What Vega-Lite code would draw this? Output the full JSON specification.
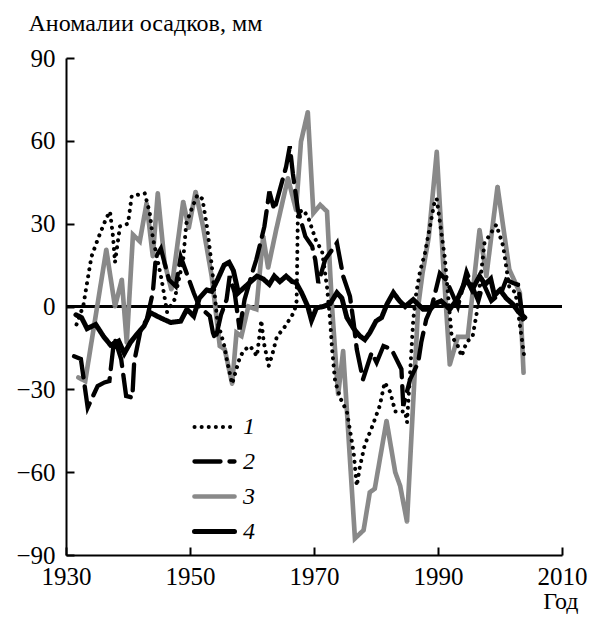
{
  "$schema": "https://vega.github.io/schema/vega-lite/v6.json",
  "autosize": "none",
  "width": 496,
  "height": 497,
  "padding": {"left": 66, "top": 58, "right": 27, "bottom": 62},
  "background": "white",
  "config": {
    "view": {"stroke": null},
    "axis": {"domainColor": "black", "domainWidth": 2, "tickColor": "black", "tickWidth": 2, "grid": false, "labelFlush": false,
      "labelFont": "Liberation Serif", "labelFontSize": 25, "labelColor": "black",
      "titleFont": "Liberation Serif", "titleFontSize": 24, "titleFontWeight": "normal", "titleColor": "black"}
  },
  "data": {"values": [
    {"series":"3","year":1932.0,"anomaly":-25.7},{"series":"3","year":1933.1,"anomaly":-27},{"series":"3","year":1936.5,"anomaly":20.6},{"series":"3","year":1937.9,"anomaly":0},{"series":"3","year":1939.0,"anomaly":9.7},{"series":"3","year":1939.8,"anomaly":-13.1},{"series":"3","year":1940.8,"anomaly":26},{"series":"3","year":1941.9,"anomaly":23.6},{"series":"3","year":1943.0,"anomaly":37.4},{"series":"3","year":1944.0,"anomaly":18.2},{"series":"3","year":1944.8,"anomaly":41},{"series":"3","year":1945.9,"anomaly":15.8},{"series":"3","year":1947.0,"anomaly":6.1},{"series":"3","year":1948.9,"anomaly":38},{"series":"3","year":1949.8,"anomaly":28.4},{"series":"3","year":1950.9,"anomaly":41.6},{"series":"3","year":1952.1,"anomaly":29},{"series":"3","year":1953.5,"anomaly":11},{"series":"3","year":1954.8,"anomaly":-14.3},{"series":"3","year":1955.6,"anomaly":-15.5},{"series":"3","year":1956.8,"anomaly":-28},{"series":"3","year":1957.5,"anomaly":-9.5},{"series":"3","year":1958.3,"anomaly":-10.7},{"series":"3","year":1959.4,"anomaly":0},{"series":"3","year":1960.7,"anomaly":-1},{"series":"3","year":1961.8,"anomaly":25.4},{"series":"3","year":1962.6,"anomaly":14},{"series":"3","year":1963.9,"anomaly":27.8},{"series":"3","year":1965.8,"anomaly":46.5},{"series":"3","year":1967.1,"anomaly":35},{"series":"3","year":1967.9,"anomaly":59.7},{"series":"3","year":1969.0,"anomaly":70.4},{"series":"3","year":1969.9,"anomaly":33.8},{"series":"3","year":1971.0,"anomaly":36.8},{"series":"3","year":1972.1,"anomaly":34.4},{"series":"3","year":1972.9,"anomaly":0},{"series":"3","year":1973.9,"anomaly":-31.8},{"series":"3","year":1974.7,"anomaly":-16.1},{"series":"3","year":1976.6,"anomaly":-84},{"series":"3","year":1978.0,"anomaly":-81},{"series":"3","year":1979.0,"anomaly":-67.3},{"series":"3","year":1979.8,"anomaly":-66},{"series":"3","year":1981.7,"anomaly":-41.4},{"series":"3","year":1983.1,"anomaly":-60},{"series":"3","year":1983.9,"anomaly":-65},{"series":"3","year":1985.0,"anomaly":-78},{"series":"3","year":1986.8,"anomaly":0},{"series":"3","year":1987.5,"anomaly":12},{"series":"3","year":1988.5,"anomaly":25},{"series":"3","year":1989.8,"anomaly":56},{"series":"3","year":1990.8,"anomaly":17},{"series":"3","year":1991.9,"anomaly":-21},{"series":"3","year":1993.2,"anomaly":-11},{"series":"3","year":1994.8,"anomaly":-11},{"series":"3","year":1996.7,"anomaly":27.8},{"series":"3","year":1997.8,"anomaly":11},{"series":"3","year":1999.6,"anomaly":43.4},{"series":"3","year":2001.5,"anomaly":13.4},{"series":"3","year":2003.2,"anomaly":5},{"series":"3","year":2003.8,"anomaly":-24},
    {"series":"1","year":1931.7,"anomaly":-6.5},{"series":"1","year":1932.8,"anomaly":0.4},{"series":"1","year":1933.3,"anomaly":7.3},{"series":"1","year":1934.1,"anomaly":18},{"series":"1","year":1935.2,"anomaly":24.8},{"series":"1","year":1936.5,"anomaly":32},{"series":"1","year":1937.1,"anomaly":34.4},{"series":"1","year":1937.6,"anomaly":25},{"series":"1","year":1937.9,"anomaly":16},{"series":"1","year":1938.7,"anomaly":29},{"series":"1","year":1940.0,"anomaly":30},{"series":"1","year":1940.6,"anomaly":40},{"series":"1","year":1941.4,"anomaly":40.4},{"series":"1","year":1942.7,"anomaly":41},{"series":"1","year":1943.5,"anomaly":34},{"series":"1","year":1944.0,"anomaly":25},{"series":"1","year":1945.4,"anomaly":10},{"series":"1","year":1946.3,"anomaly":-2},{"series":"1","year":1947.5,"anomaly":2.5},{"series":"1","year":1948.9,"anomaly":17},{"series":"1","year":1949.4,"anomaly":30},{"series":"1","year":1950.2,"anomaly":35},{"series":"1","year":1951.2,"anomaly":40.4},{"series":"1","year":1952.0,"anomaly":39},{"series":"1","year":1952.8,"anomaly":28},{"series":"1","year":1953.5,"anomaly":15},{"series":"1","year":1954.4,"anomaly":-5},{"series":"1","year":1955.5,"anomaly":-14},{"series":"1","year":1956.0,"anomaly":-20},{"series":"1","year":1956.8,"anomaly":-28},{"series":"1","year":1958.1,"anomaly":-18},{"series":"1","year":1958.9,"anomaly":-15.5},{"series":"1","year":1959.7,"anomaly":-14.3},{"series":"1","year":1960.8,"anomaly":-18},{"series":"1","year":1961.5,"anomaly":-5},{"series":"1","year":1961.9,"anomaly":-13},{"series":"1","year":1962.7,"anomaly":-21.5},{"series":"1","year":1963.2,"anomaly":-18},{"series":"1","year":1964.0,"anomaly":-11},{"series":"1","year":1965.4,"anomaly":-7},{"series":"1","year":1966.8,"anomaly":-2},{"series":"1","year":1967.2,"anomaly":2},{"series":"1","year":1967.4,"anomaly":34},{"series":"1","year":1968.3,"anomaly":35},{"series":"1","year":1969.1,"anomaly":32},{"series":"1","year":1970.3,"anomaly":24},{"series":"1","year":1971.3,"anomaly":20},{"series":"1","year":1972.1,"anomaly":7},{"series":"1","year":1972.6,"anomaly":-5},{"series":"1","year":1972.9,"anomaly":-15},{"series":"1","year":1973.4,"anomaly":-27},{"series":"1","year":1974.2,"anomaly":-33},{"series":"1","year":1975.3,"anomaly":-38},{"series":"1","year":1976.4,"anomaly":-53},{"series":"1","year":1976.9,"anomaly":-65},{"series":"1","year":1977.4,"anomaly":-58},{"series":"1","year":1978.2,"anomaly":-50},{"series":"1","year":1979.3,"anomaly":-44},{"series":"1","year":1980.6,"anomaly":-36},{"series":"1","year":1981.4,"anomaly":-27.5},{"series":"1","year":1982.3,"anomaly":-31},{"series":"1","year":1983.1,"anomaly":-38},{"series":"1","year":1984.7,"anomaly":-38},{"series":"1","year":1985.0,"anomaly":-42},{"series":"1","year":1985.5,"anomaly":-24},{"series":"1","year":1986.0,"anomaly":-5},{"series":"1","year":1986.5,"anomaly":5},{"series":"1","year":1987.1,"anomaly":12.7},{"series":"1","year":1987.9,"anomaly":19.4},{"series":"1","year":1988.7,"anomaly":29},{"series":"1","year":1989.5,"anomaly":38.6},{"series":"1","year":1989.8,"anomaly":39},{"series":"1","year":1991.1,"anomaly":17.6},{"series":"1","year":1992.2,"anomaly":-10.7},{"series":"1","year":1993.2,"anomaly":-14.3},{"series":"1","year":1993.8,"anomaly":-18},{"series":"1","year":1994.6,"anomaly":-13},{"series":"1","year":1995.6,"anomaly":-10.7},{"series":"1","year":1996.2,"anomaly":-3},{"series":"1","year":1997.5,"anomaly":23},{"series":"1","year":1999.4,"anomaly":29.6},{"series":"1","year":2000.5,"anomaly":22},{"series":"1","year":2001.5,"anomaly":7},{"series":"1","year":2002.5,"anomaly":5},{"series":"1","year":2003.9,"anomaly":-18},
    {"series":"2","year":1931.3,"anomaly":-18},{"series":"2","year":1932.4,"anomaly":-19},{"series":"2","year":1933.5,"anomaly":-36.6},{"series":"2","year":1935.1,"anomaly":-28.8},{"series":"2","year":1936.2,"anomaly":-27.5},{"series":"2","year":1937.0,"anomaly":-27},{"series":"2","year":1937.8,"anomaly":-11.3},{"series":"2","year":1938.9,"anomaly":-19.1},{"series":"2","year":1939.7,"anomaly":-32.4},{"series":"2","year":1940.7,"anomaly":-33},{"series":"2","year":1941.0,"anomaly":-20},{"series":"2","year":1942.1,"anomaly":-7.7},{"series":"2","year":1943.0,"anomaly":-5},{"series":"2","year":1944.0,"anomaly":5},{"series":"2","year":1944.5,"anomaly":18},{"series":"2","year":1945.3,"anomaly":21},{"series":"2","year":1946.6,"anomaly":9.7},{"series":"2","year":1947.7,"anomaly":7.3},{"series":"2","year":1948.5,"anomaly":18},{"series":"2","year":1950.6,"anomaly":5},{"series":"2","year":1951.5,"anomaly":0},{"series":"2","year":1953.2,"anomaly":-3.5},{"series":"2","year":1953.7,"anomaly":-9.5},{"series":"2","year":1954.1,"anomaly":-12},{"series":"2","year":1955.0,"anomaly":-3},{"series":"2","year":1955.9,"anomaly":2.5},{"series":"2","year":1956.4,"anomaly":11},{"series":"2","year":1957.2,"anomaly":5},{"series":"2","year":1958.0,"anomaly":-8.3},{"series":"2","year":1958.8,"anomaly":2.5},{"series":"2","year":1960.2,"anomaly":13.4},{"series":"2","year":1960.7,"anomaly":17},{"series":"2","year":1962.0,"anomaly":29},{"series":"2","year":1962.8,"anomaly":41.6},{"series":"2","year":1963.6,"anomaly":35},{"series":"2","year":1965.5,"anomaly":50.6},{"series":"2","year":1966.1,"anomaly":58},{"series":"2","year":1966.6,"anomaly":48},{"series":"2","year":1967.4,"anomaly":35},{"series":"2","year":1968.6,"anomaly":25.4},{"series":"2","year":1969.7,"anomaly":21.8},{"series":"2","year":1970.2,"anomaly":17},{"series":"2","year":1970.7,"anomaly":8.5},{"series":"2","year":1971.8,"anomaly":17},{"series":"2","year":1973.7,"anomaly":23},{"series":"2","year":1974.7,"anomaly":11},{"series":"2","year":1975.8,"anomaly":3.7},{"series":"2","year":1976.4,"anomaly":-6},{"series":"2","year":1976.9,"anomaly":-15.5},{"series":"2","year":1977.9,"anomaly":-26.4},{"series":"2","year":1979.3,"anomaly":-16.7},{"series":"2","year":1980.1,"anomaly":-20.3},{"series":"2","year":1981.2,"anomaly":-14.3},{"series":"2","year":1982.5,"anomaly":-15.5},{"series":"2","year":1984.1,"anomaly":-22.7},{"series":"2","year":1984.4,"anomaly":-36},{"series":"2","year":1985.5,"anomaly":-26.4},{"series":"2","year":1986.8,"anomaly":-20.3},{"series":"2","year":1987.3,"anomaly":-13},{"series":"2","year":1988.1,"anomaly":-4.7},{"series":"2","year":1989.0,"anomaly":0},{"series":"2","year":1990.3,"anomaly":12},{"series":"2","year":1991.3,"anomaly":9.7},{"series":"2","year":1993.2,"anomaly":0},{"series":"2","year":1994.6,"anomaly":12.5},{"series":"2","year":1996.5,"anomaly":2},{"series":"2","year":1997.3,"anomaly":8.5},{"series":"2","year":1998.6,"anomaly":2},{"series":"2","year":2000.2,"anomaly":5},{"series":"2","year":2001.0,"anomaly":9.7},{"series":"2","year":2002.1,"anomaly":8.5},{"series":"2","year":2002.9,"anomaly":7.9},{"series":"2","year":2003.7,"anomaly":-4.7},
    {"series":"4","year":1931.6,"anomaly":-3},{"series":"4","year":1932.5,"anomaly":-4},{"series":"4","year":1933.4,"anomaly":-8},{"series":"4","year":1934.8,"anomaly":-6.5},{"series":"4","year":1936.1,"anomaly":-11},{"series":"4","year":1937.2,"anomaly":-14},{"series":"4","year":1938.5,"anomaly":-12.5},{"series":"4","year":1939.4,"anomaly":-17},{"series":"4","year":1940.4,"anomaly":-13},{"series":"4","year":1941.2,"anomaly":-10.7},{"series":"4","year":1942.6,"anomaly":-7},{"series":"4","year":1943.6,"anomaly":-2.2},{"series":"4","year":1944.7,"anomaly":-3.5},{"series":"4","year":1945.8,"anomaly":-4.7},{"series":"4","year":1946.9,"anomaly":-5.8},{"series":"4","year":1948.5,"anomaly":-5.3},{"series":"4","year":1949.5,"anomaly":-1},{"series":"4","year":1950.6,"anomaly":-3.5},{"series":"4","year":1951.5,"anomaly":3},{"series":"4","year":1952.7,"anomaly":6},{"series":"4","year":1953.5,"anomaly":5.5},{"series":"4","year":1954.5,"anomaly":10},{"series":"4","year":1955.5,"anomaly":15},{"series":"4","year":1956.3,"anomaly":16},{"series":"4","year":1957.0,"anomaly":13},{"series":"4","year":1957.8,"anomaly":5},{"series":"4","year":1958.8,"anomaly":7},{"series":"4","year":1959.8,"anomaly":9},{"series":"4","year":1960.8,"anomaly":11},{"series":"4","year":1961.8,"anomaly":10},{"series":"4","year":1962.8,"anomaly":8},{"series":"4","year":1963.6,"anomaly":11},{"series":"4","year":1964.5,"anomaly":9},{"series":"4","year":1965.5,"anomaly":11},{"series":"4","year":1966.5,"anomaly":9},{"series":"4","year":1967.1,"anomaly":8.7},{"series":"4","year":1968.0,"anomaly":5},{"series":"4","year":1969.0,"anomaly":0},{"series":"4","year":1969.6,"anomaly":-5},{"series":"4","year":1970.4,"anomaly":-0.5},{"series":"4","year":1971.5,"anomaly":0},{"series":"4","year":1972.6,"anomaly":1},{"series":"4","year":1973.7,"anomaly":5},{"series":"4","year":1974.5,"anomaly":3},{"series":"4","year":1975.3,"anomaly":-4},{"series":"4","year":1976.4,"anomaly":-8},{"series":"4","year":1977.4,"anomaly":-10.7},{"series":"4","year":1978.2,"anomaly":-12},{"series":"4","year":1979.0,"anomaly":-9.5},{"series":"4","year":1980.0,"anomaly":-5.3},{"series":"4","year":1980.9,"anomaly":-4},{"series":"4","year":1981.8,"anomaly":1},{"series":"4","year":1982.8,"anomaly":5},{"series":"4","year":1983.8,"anomaly":2},{"series":"4","year":1984.7,"anomaly":0},{"series":"4","year":1986.0,"anomaly":2.5},{"series":"4","year":1987.6,"anomaly":-1},{"series":"4","year":1988.7,"anomaly":-1},{"series":"4","year":1989.8,"anomaly":1.3},{"series":"4","year":1990.5,"anomaly":2},{"series":"4","year":1991.9,"anomaly":-1},{"series":"4","year":1993.2,"anomaly":3},{"series":"4","year":1994.6,"anomaly":10},{"series":"4","year":1995.5,"anomaly":6},{"series":"4","year":1996.7,"anomaly":11},{"series":"4","year":1997.6,"anomaly":8},{"series":"4","year":1998.5,"anomaly":10},{"series":"4","year":1999.1,"anomaly":4},{"series":"4","year":2000.0,"anomaly":6},{"series":"4","year":2001.0,"anomaly":3},{"series":"4","year":2002.0,"anomaly":1},{"series":"4","year":2003.0,"anomaly":-2},{"series":"4","year":2004.0,"anomaly":-4}
  ]},
  "layer": [
    {
      "mark": {"type": "rule", "color": "black", "strokeWidth": 2},
      "encoding": {"y": {"datum": 0, "type": "quantitative"}}
    },
    {
      "mark": {"type": "line", "strokeCap": "round", "strokeJoin": "miter"},
      "encoding": {
        "x": {"field": "year", "type": "quantitative",
          "scale": {"domain": [1930, 2010], "nice": false, "zero": false},
          "axis": {"values": [1930, 1950, 1970, 1990, 2010], "format": "d", "tickSize": -8, "labelPadding": 17,
            "title": "Год", "titleAlign": "right", "titleAnchor": null, "titleX": 512, "titleY": 53, "titleBaseline": "alphabetic"}},
        "y": {"field": "anomaly", "type": "quantitative",
          "scale": {"domain": [-90, 90], "nice": false},
          "axis": {"values": [-90, -60, -30, 0, 30, 60, 90], "tickSize": -8, "labelPadding": 19,
            "title": "Аномалии осадков, мм", "titleAngle": 0, "titleAlign": "left", "titleAnchor": null, "titleBaseline": "alphabetic", "titleX": -38, "titleY": -28}},
        "color": {"field": "series", "type": "nominal",
          "scale": {"domain": ["1", "2", "3", "4"], "range": ["#000000", "#000000", "#898989", "#000000"]},
          "legend": {"orient": "none", "legendX": 126, "legendY": 347, "title": null, "symbolType": "stroke", "symbolSize": 1600,
            "rowPadding": -11, "labelFont": "Liberation Serif", "labelFontStyle": "italic", "labelFontSize": 24, "labelColor": "black", "labelOffset": 6,
            "encode": {"symbols": {"update": {"strokeCap": {"value": "round"},
              "strokeDash": {"signal": "datum.value === '1' ? [0.1, 9.9] : [1, 0]"}}}}}},
        "strokeDash": {"field": "series", "type": "nominal",
          "scale": {"domain": ["1", "2", "3", "4"], "range": [[0.1, 7], [26, 9], [1, 0], [1, 0]]}},
        "strokeWidth": {"field": "series", "type": "nominal",
          "scale": {"domain": ["1", "2", "3", "4"], "range": [4, 5, 3, 2.5]}},
        "order": {"field": "year", "type": "quantitative"}
      }
    }
  ]
}
